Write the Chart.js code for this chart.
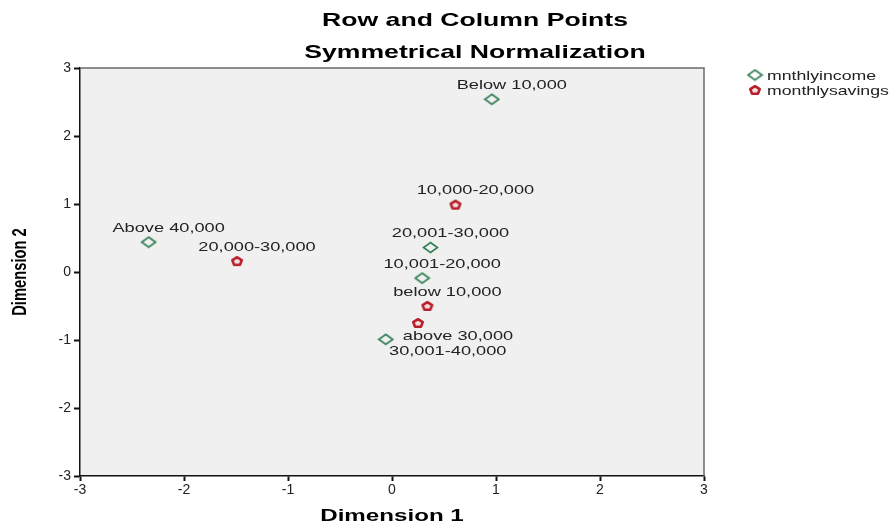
<!DOCTYPE html>
<html>
<head>
<meta charset="utf-8">
<script src="https://cdn.jsdelivr.net/npm/chart.js@4"></script>
<style>
html,body{margin:0;padding:0;background:#fff;}
#wrap{width:892px;height:524px;position:relative;}
</style>
</head>
<body>
<div id="wrap"><canvas id="c" width="892" height="524"></canvas></div>
<script>
// ---- data ----
const incomeLabels = ['Below 10,000', '10,001-20,000', '20,001-30,000', '30,001-40,000', 'Above 40,000'];
const incomeDim1 = [0.96, 0.29, 0.37, -0.06, -2.34];
const incomeDim2 = [2.54, -0.09, 0.36, -0.99, 0.44];

const savingsLabels = ['below 10,000', '10,000-20,000', '20,000-30,000', 'above 30,000'];
const savingsDim1 = [0.34, 0.61, -1.49, 0.25];
const savingsDim2 = [-0.50, 0.99, 0.16, -0.75];

const axisTicks = [-3, -2, -1, 0, 1, 2, 3];
const seriesNames = ['mnthlyincome', 'monthlysavings'];

// ---- styles ----
const GREEN = '#2f7d52';
const RED = '#b81f2a';
const FONT = '"Liberation Sans", Arial, sans-serif';
const STRETCH = 1.4;

function makeDiamond() {
  const c = document.createElement('canvas');
  c.width = 17; c.height = 13;
  const g = c.getContext('2d');
  g.strokeStyle = GREEN; g.lineWidth = 1.6;
  g.beginPath();
  g.moveTo(8.5, 1.5); g.lineTo(15.5, 6.5); g.lineTo(8.5, 11.5); g.lineTo(1.5, 6.5); g.closePath();
  g.stroke();
  return c;
}
function makePentagon() {
  const c = document.createElement('canvas');
  c.width = 14; c.height = 12;
  const g = c.getContext('2d');
  g.strokeStyle = RED; g.lineWidth = 2.6; g.lineJoin = 'round';
  g.fillStyle = '#f3dede';
  const cx = 7, cy = 6.4, rx = 5.0, ry = 4.2;
  g.beginPath();
  for (let i = 0; i < 5; i++) {
    const a = -Math.PI / 2 + i * 2 * Math.PI / 5;
    const px = cx + rx * Math.cos(a), py = cy + ry * Math.sin(a);
    if (i === 0) g.moveTo(px, py); else g.lineTo(px, py);
  }
  g.closePath(); g.fill(); g.stroke();
  return c;
}
const diamondImg = makeDiamond();
const pentagonImg = makePentagon();

// label placement (style): default offset and specific exceptions
const labelDefault = {dx: 20, dy: -14};
const labelSpecial = {
  'above 30,000': {dx: 40, dy: 13},
  '30,001-40,000': {dx: 62, dy: 12}
};

function wideText(ctx, text, x, y, sx) {
  ctx.save();
  ctx.translate(x, y);
  ctx.scale(sx, 1);
  ctx.fillText(text, 0, 0);
  ctx.restore();
}

const decor = {
  id: 'decor',
  beforeDraw(chart) {
    const {ctx, chartArea: a} = chart;
    ctx.save();
    ctx.fillStyle = '#f0f0f0';
    ctx.fillRect(a.left, a.top, a.right - a.left, a.bottom - a.top);
    ctx.restore();
  },
  afterDraw(chart) {
    const {ctx, chartArea: a} = chart;
    ctx.save();
    // top and right frame
    ctx.strokeStyle = '#6a6a6a'; ctx.lineWidth = 1.5;
    ctx.beginPath();
    ctx.moveTo(a.left, a.top); ctx.lineTo(a.right, a.top); ctx.lineTo(a.right, a.bottom);
    ctx.stroke();
    // titles
    ctx.fillStyle = '#000';
    ctx.textAlign = 'center'; ctx.textBaseline = 'middle';
    ctx.font = 'bold 19px ' + FONT;
    wideText(ctx, 'Row and Column Points', 475, 21, STRETCH);
    wideText(ctx, 'Symmetrical Normalization', 475, 53, STRETCH);
    // axis titles
    ctx.font = 'bold 17px ' + FONT;
    wideText(ctx, 'Dimension 1', (a.left + a.right) / 2, 516, 1.42);
    ctx.save();
    ctx.font = 'bold 16px ' + FONT;
    ctx.translate(20, (a.top + a.bottom) / 2);
    ctx.rotate(-Math.PI / 2);
    ctx.scale(0.92, 1.3);
    ctx.fillText('Dimension 2', 0, 0);
    ctx.restore();
    // legend
    ctx.font = '13px ' + FONT;
    ctx.textAlign = 'left';
    ctx.fillStyle = '#222';
    const imgs = [diamondImg, pentagonImg];
    seriesNames.forEach((n, i) => {
      const y = 75 + i * 15;
      const im = imgs[i];
      ctx.drawImage(im, 755 - im.width / 2, y - im.height / 2);
      wideText(ctx, n, 767, y + 1, 1.36);
    });
    ctx.restore();
  },
  afterDatasetsDraw(chart) {
    const {ctx} = chart;
    ctx.save();
    ctx.font = '13px ' + FONT;
    ctx.fillStyle = '#222';
    ctx.textAlign = 'center'; ctx.textBaseline = 'middle';
    chart.data.datasets.forEach((ds, di) => {
      const meta = chart.getDatasetMeta(di);
      meta.data.forEach((pt, i) => {
        const lbl = ds.pointLabels[i];
        const o = labelSpecial[lbl] || labelDefault;
        wideText(ctx, lbl, pt.x + o.dx, pt.y + o.dy, STRETCH);
      });
    });
    ctx.restore();
  }
};

const toPoints = (xs, ys) => xs.map((x, i) => ({x, y: ys[i]}));

new Chart(document.getElementById('c'), {
  type: 'scatter',
  data: {
    datasets: [
      {label: seriesNames[0], data: toPoints(incomeDim1, incomeDim2), pointLabels: incomeLabels,
       pointStyle: diamondImg, borderColor: GREEN, backgroundColor: GREEN},
      {label: seriesNames[1], data: toPoints(savingsDim1, savingsDim2), pointLabels: savingsLabels,
       pointStyle: pentagonImg, borderColor: RED, backgroundColor: RED}
    ]
  },
  options: {
    responsive: false,
    animation: false,
    devicePixelRatio: 1,
    layout: {padding: {top: 68, right: 188, left: 0, bottom: 0}},
    plugins: {legend: {display: false}, title: {display: false}, tooltip: {enabled: false}},
    scales: {
      x: {
        type: 'linear', min: -3, max: 3,
        afterBuildTicks: s => { s.ticks = axisTicks.map(v => ({value: v})); },
        afterFit: s => { s.height = 48; },
        ticks: {color: '#222', font: {family: FONT, size: 14}, padding: 1, maxRotation: 0},
        grid: {drawOnChartArea: false, drawTicks: true, tickLength: 5, tickColor: '#111', tickWidth: 2},
        border: {color: '#111', width: 1.5}
      },
      y: {
        type: 'linear', min: -3, max: 3,
        afterBuildTicks: s => { s.ticks = axisTicks.map(v => ({value: v})); },
        afterFit: s => { s.width = 80; },
        ticks: {color: '#222', font: {family: FONT, size: 14}, padding: 3},
        grid: {drawOnChartArea: false, drawTicks: true, tickLength: 6, tickColor: '#111', tickWidth: 2},
        border: {color: '#111', width: 1.5}
      }
    }
  },
  plugins: [decor]
});
</script>
</body>
</html>
